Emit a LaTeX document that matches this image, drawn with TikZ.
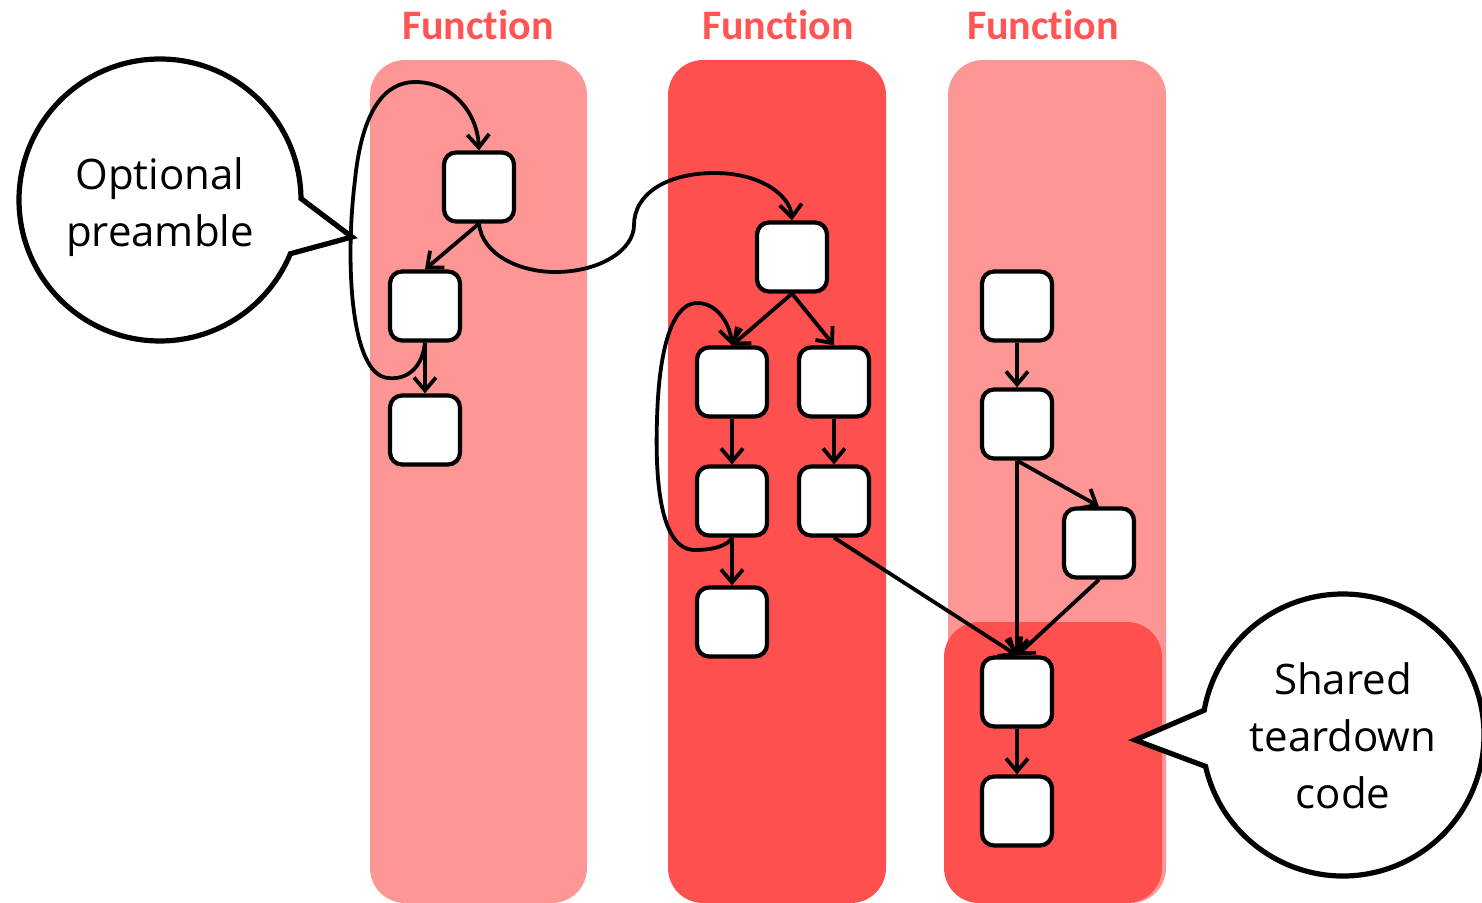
\documentclass[tikz,border=0pt]{standalone}
\usepackage{fontspec}
\setmainfont{Open Sans}
\newfontfamily\titlefont[Ligatures=NoCommon]{Carlito}
\usetikzlibrary{arrows.meta,shapes.callouts}
\definecolor{lanelight}{RGB}{255,150,150}
\definecolor{lanedark}{RGB}{255,80,80}
\definecolor{titlered}{RGB}{255,85,85}
\begin{document}
\begin{tikzpicture}[x=0.5pt,y=-0.5pt,
  blk/.style={draw=black,fill=white,line width=2.1pt,rounded corners=6pt,
    minimum width=35pt,minimum height=34.5pt,inner sep=0pt},
  arr/.style={line width=1.9pt,-{Straight Barb[length=6.5pt,width=11pt,line width=1.9pt]}},
  lane/.style={rounded corners=17.5pt},
  title/.style={text=titlered,font=\titlefont\bfseries\fontsize{21pt}{24pt}\selectfont},
  bubble/.style={ellipse callout,draw=black,fill=white,line width=2.6pt,
    minimum width=141pt,minimum height=141pt,inner sep=0pt,
    callout pointer arc=23},
  bubbletext/.style={align=center,inner sep=0pt,font=\fontsize{21pt}{28.5pt}\selectfont}]
\useasboundingbox (0,0) rectangle (1482,903);

% function lanes
\fill[lanelight,lane] (370,60) rectangle (587,903);
\fill[lanedark,lane] (668,60) rectangle (886,903);
\fill[lanelight,lane] (948,60) rectangle (1166,903);
\fill[lanedark,lane] (944,622) rectangle (1162,903);

\node[title] (t1) at (478,25) {Function};
\node[title] (t2) at (778,25) {Function};
\node[title] (t3) at (1043,25) {Function};

% first function
\node[blk] (A1) at (479,187) {};
\node[blk] (A2) at (425,306) {};
\node[blk] (A3) at (425,430) {};

% second function
\node[blk] (B1) at (792,257) {};
\node[blk] (B2) at (732,382) {};
\node[blk] (B3) at (834,382) {};
\node[blk] (B4) at (732,501) {};
\node[blk] (B5) at (834,501) {};
\node[blk] (B6) at (732,622) {};

% third function
\node[blk] (C1) at (1017,306) {};
\node[blk] (C2) at (1017,424) {};
\node[blk] (C3) at (1099,543) {};
\node[blk] (C4) at (1017,692) {};
\node[blk] (C5) at (1017,811) {};

\draw[arr] (A1.south) -- (A2.north);
\draw[arr] (A2.south) -- (A3.north);
\draw[arr] (A2.south) .. controls (422,370) and (405,380) .. (388,378)
  .. controls (350,375) and (345,260) .. (355,180)
  .. controls (362,110) and (385,82) .. (415,82)
  .. controls (450,82) and (477,110) .. (A1.north);
\draw[arr] (A1.south) .. controls (482,255) and (520,272) .. (555,272)
  .. controls (600,272) and (634,250) .. (634,225)
  .. controls (634,195) and (665,173) .. (715,173)
  .. controls (760,173) and (790,195) .. (B1.north);

\draw[arr] (B1.south) -- (B2.north);
\draw[arr] (B1.south) -- (B3.north);
\draw[arr] (B2.south) -- (B4.north);
\draw[arr] (B3.south) -- (B5.north);
\draw[arr] (B4.south) -- (B6.north);
\draw[arr] (B4.south) .. controls (728,546) and (712,550) .. (695,550)
  .. controls (660,550) and (655,480) .. (657,420)
  .. controls (659,340) and (675,303) .. (697,303)
  .. controls (718,303) and (730,325) .. (B2.north);
\draw[arr] (B5.south) -- (C4.north);

\draw[arr] (C1.south) -- (C2.north);
\draw[arr] (C2.south) -- (C3.north);
\draw[arr] (C2.south) -- (C4.north);
\draw[arr] (C3.south) -- (C4.north);
\draw[arr] (C4.south) -- (C5.north);

% callouts
\node[bubble,callout absolute pointer={(352,237)}] (pre) at (160,200) {};
\node[bubbletext] (pretext) at (160,207) {Optional\\preamble};
\node[bubble,callout absolute pointer={(1135,740)}] (tear) at (1343,735) {};
\node[bubbletext] (teartext) at (1343,736) {Shared\\teardown\\code};
\end{tikzpicture}
\end{document}
